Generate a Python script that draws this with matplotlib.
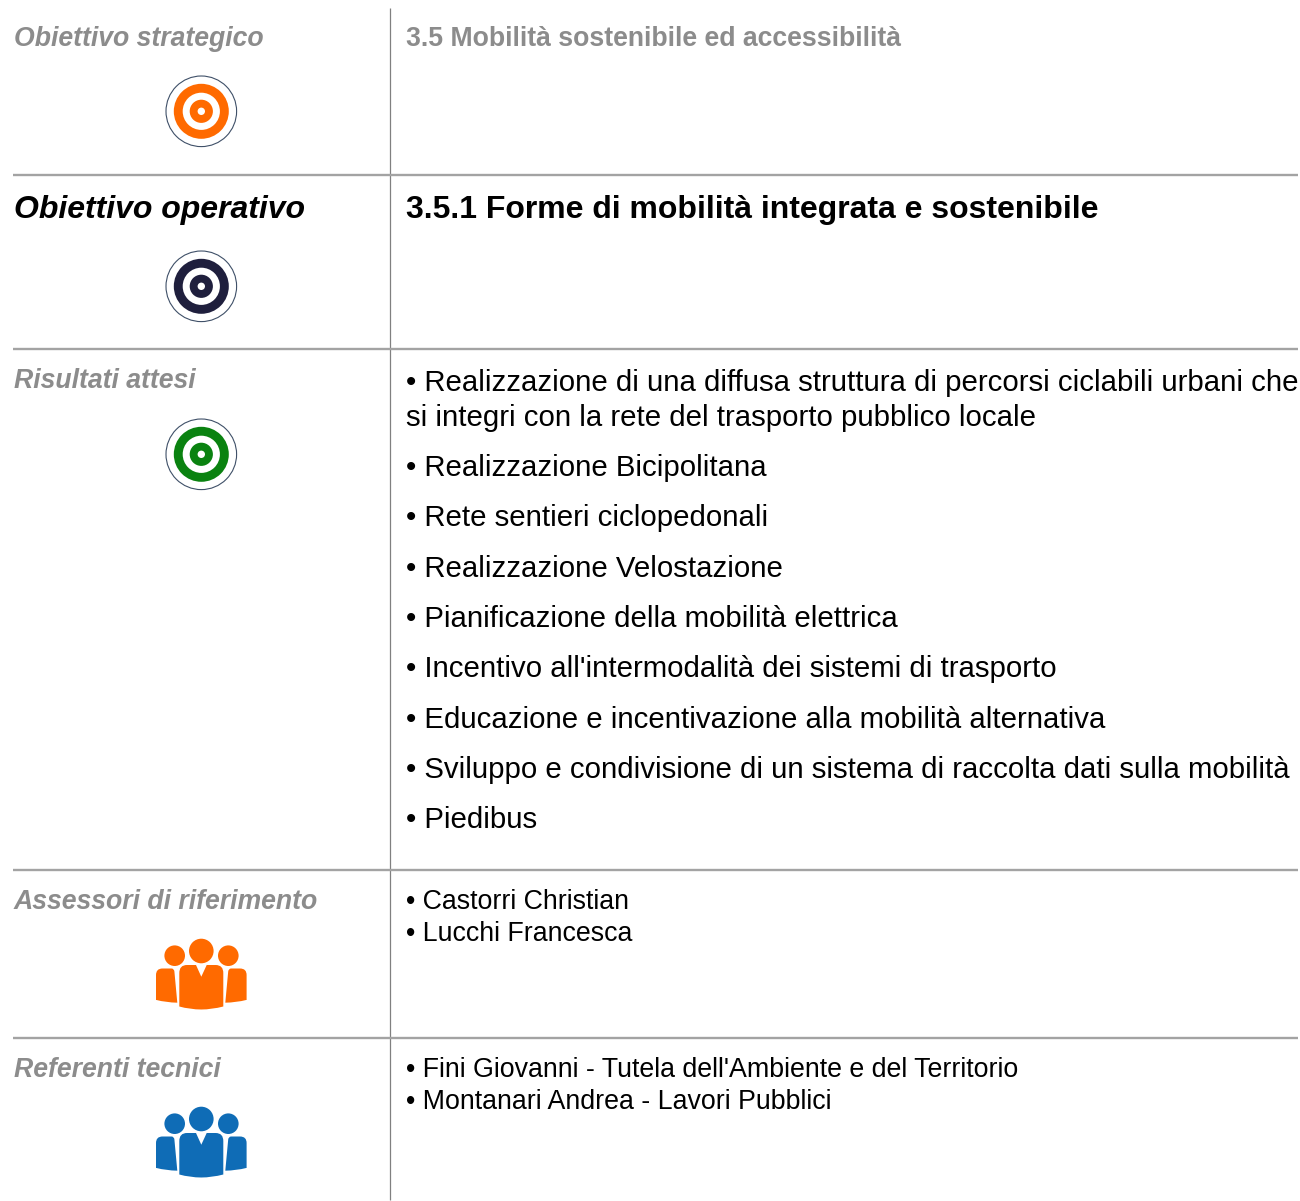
import matplotlib
matplotlib.use("Agg")
import matplotlib.pyplot as plt
from matplotlib.patches import Circle, PathPatch
from matplotlib.path import Path

plt.rcParams["font.family"] = ["Liberation Sans", "DejaVu Sans"]

left_labels = ["Obiettivo strategico", "Obiettivo operativo", "Risultati attesi",
               "Assessori di riferimento", "Referenti tecnici"]
left_base = [46, 218, 388, 909, 1077]
left_size = [19.2, 23.0, 19.2, 19.2, 19.2]
left_color = ["#8c8c8c", "#000000", "#8c8c8c", "#8c8c8c", "#8c8c8c"]

titles = ["3.5 Mobilità sostenibile ed accessibilità",
          "3.5.1 Forme di mobilità integrata e sostenibile"]
title_base = [46, 218]
title_size = [19.2, 23.0]
title_color = ["#8c8c8c", "#000000"]

risultati = ["• Realizzazione di una diffusa struttura di percorsi ciclabili urbani che",
             "si integri con la rete del trasporto pubblico locale",
             "• Realizzazione Bicipolitana",
             "• Rete sentieri ciclopedonali",
             "• Realizzazione Velostazione",
             "• Pianificazione della mobilità elettrica",
             "• Incentivo all'intermodalità dei sistemi di trasporto",
             "• Educazione e incentivazione alla mobilità alternativa",
             "• Sviluppo e condivisione di un sistema di raccolta dati sulla mobilità",
             "• Piedibus"]
risultati_base = [391, 426, 476, 526, 577, 627, 677, 728, 778, 828]

persone = ["• Castorri Christian", "• Lucchi Francesca",
           "• Fini Giovanni - Tutela dell'Ambiente e del Territorio",
           "• Montanari Andrea - Lavori Pubblici"]
persone_base = [909, 941, 1077, 1109]

rules = [175, 349, 870, 1038]
targets = [(111.3, "#ff6a00"), (286.3, "#1f1f3d"), (454.3, "#0a8210")]
people = [(0, "#ff6a00"), (168, "#0f6cb6")]

fig = plt.figure(figsize=(13, 12.01), dpi=100)
ax = fig.add_axes([0, 0, 1, 1])
ax.set_xlim(0, 1300)
ax.set_ylim(1201, 0)
ax.axis("off")

ax.plot([390, 390], [8, 1200], color="#808080", lw=0.9, solid_capstyle="butt")
for y in rules:
    ax.plot([13, 1298], [y, y], color="#a3a3a3", lw=1.7, solid_capstyle="butt")

for s, y, fs, c in zip(left_labels, left_base, left_size, left_color):
    ax.text(14, y, s, fontsize=fs, color=c, fontweight="bold", fontstyle="italic", va="baseline")
for s, y, fs, c in zip(titles, title_base, title_size, title_color):
    ax.text(406, y, s, fontsize=fs, color=c, fontweight="bold", va="baseline")
for s, y in zip(risultati, risultati_base):
    ax.text(406, y, s, fontsize=21.12, color="black", va="baseline")
for s, y in zip(persone, persone_base):
    ax.text(406, y, s, fontsize=19.3, color="black", va="baseline")

# bersagli
for cy, c in targets:
    ax.add_patch(Circle((201.3, cy), 35.3, fc="white", ec="#3f5068", lw=0.8))
    for r, col in [(27.5, c), (18.6, "white"), (11.6, c), (3.7, "white")]:
        ax.add_patch(Circle((201.3, cy), r, fc=col, ec="none"))

# gruppi di persone
def shape(pts, c):
    # "C" = punto di controllo della curva
    verts, codes = [], []
    for i, (x, y, k) in enumerate(pts):
        verts.append((x, y))
        codes.append(Path.MOVETO if i == 0 else (Path.CURVE3 if k == "C" else Path.LINETO))
    verts.append(verts[0])
    codes.append(Path.CLOSEPOLY)
    ax.add_patch(PathPatch(Path(verts, codes), fc=c, ec="none"))

for dy, c in people:
    ax.add_patch(Circle((201.3, 951 + dy), 12.3, fc=c, ec="none"))
    ax.add_patch(Circle((174.7, 955.7 + dy), 10.3, fc=c, ec="none"))
    ax.add_patch(Circle((228.3, 955.7 + dy), 10.3, fc=c, ec="none"))
    for flip in [False, True]:
        fx = (lambda x: 402.6 - x) if flip else (lambda x: x)
        shape([(fx(156), 975 + dy, "L"), (fx(156), 968.5 + dy, "C"), (fx(162.5), 968.5 + dy, "C"),
               (fx(171.5), 968.5 + dy, "L"), (fx(174), 968.5 + dy, "C"), (fx(174.4), 971.5 + dy, "C"),
               (fx(177.3), 1002.7 + dy, "L"), (fx(166), 1002.5 + dy, "C"), (fx(156.5), 1000 + dy, "C"),
               (fx(156), 1000 + dy, "L")], c)
    shape([(179.3, 973 + dy, "L"), (179.3, 965 + dy, "C"), (187, 965 + dy, "C"),
           (196, 965 + dy, "L"), (201.3, 976.7 + dy, "L"), (206.7, 965 + dy, "L"),
           (215.6, 965 + dy, "L"), (223.3, 965 + dy, "C"), (223.3, 973 + dy, "C"),
           (223.3, 1006.5 + dy, "L"), (212, 1009.5 + dy, "C"), (201.3, 1009.5 + dy, "C"),
           (190, 1009.5 + dy, "C"), (179.3, 1006.5 + dy, "C")], c)

fig.savefig("out.png", dpi=100, facecolor="white")
